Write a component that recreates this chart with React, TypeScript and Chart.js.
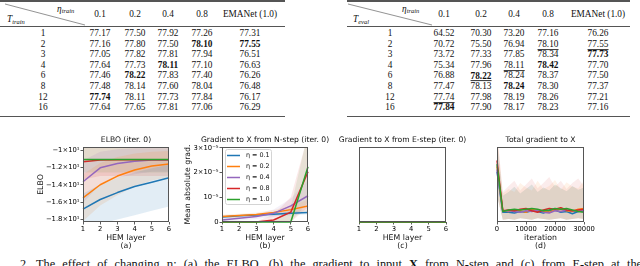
import React, { useEffect, useRef } from 'react';
import { Chart, registerables } from 'chart.js';
Chart.register(...registerables);

// ---------------- table data ----------------
const T_ROWS = ['1', '2', '3', '4', '6', '8', '12', '16'];
const ETA_COLS = ['0.1', '0.2', '0.4', '0.8', 'EMANet (1.0)'];
const TRAIN_ETA_01 = ['77.17', '77.16', '77.05', '77.64', '77.46', '77.48', '77.74', '77.64'];
const TRAIN_ETA_02 = ['77.50', '77.80', '77.82', '77.73', '78.22', '78.14', '78.11', '77.65'];
const TRAIN_ETA_04 = ['77.92', '77.50', '77.81', '78.11', '77.83', '77.60', '77.73', '77.81'];
const TRAIN_ETA_08 = ['77.26', '78.10', '77.94', '77.10', '77.40', '78.04', '77.84', '77.06'];
const TRAIN_EMANET = ['77.31', '77.55', '76.51', '76.63', '76.26', '76.48', '76.17', '76.29'];
const TRAIN_BOLD = ['1-3', '1-4', '3-2', '4-1', '6-0'];
const TRAIN_UNDERLINE: string[] = [];
const EVAL_ETA_01 = ['64.52', '70.72', '73.72', '75.34', '76.88', '77.47', '77.74', '77.84'];
const EVAL_ETA_02 = ['70.30', '75.50', '77.33', '77.96', '78.22', '78.13', '77.98', '77.90'];
const EVAL_ETA_04 = ['73.20', '76.94', '77.85', '78.11', '78.24', '78.24', '78.19', '78.17'];
const EVAL_ETA_08 = ['77.16', '78.10', '78.34', '78.42', '78.37', '78.30', '78.26', '78.23'];
const EVAL_EMANET = ['76.26', '77.55', '77.73', '77.70', '77.50', '77.37', '77.21', '77.16'];
const EVAL_BOLD = ['2-4', '3-3', '4-1', '5-2', '7-0'];
const EVAL_UNDERLINE = ['1-3', '1-4', '3-2', '4-1', '6-0'];

// ---------------- plot data ----------------
const ETA_LABELS = ['η = 0.1', 'η = 0.2', 'η = 0.4', 'η = 0.8', 'η = 1.0'];
const COLORS = ['#1f77b4', '#ff7f0e', '#9467bd', '#d62728', '#2ca02c'];
const HEM_LAYERS = [1, 2, 3, 4, 5, 6];

// (a) ELBO
const ELBO_01 = [-16.8, -15.7, -14.9, -14.2, -13.7, -13.2];
const ELBO_02 = [-15.5, -14.0, -13.0, -12.3, -11.85, -11.6];
const ELBO_04 = [-13.65, -12.05, -11.55, -11.3, -11.15, -11.15];
const ELBO_08 = [-11.35, -11.15, -11.12, -11.12, -11.12, -11.12];
const ELBO_10 = [-11.1, -11.1, -11.1, -11.1, -11.1, -11.1];
const ELBO_BAND_01_HI = [-15.0, -14.0, -13.2, -12.6, -12.1, -11.7];
const ELBO_BAND_01_LO = [-19.0, -18.5, -18.0, -17.5, -17.0, -16.5];
const ELBO_BAND_02_HI = [-12.8, -11.5, -10.8, -10.4, -10.2, -10.1];
const ELBO_BAND_02_LO = [-18.2, -16.4, -15.2, -14.2, -13.5, -13.1];
const ELBO_BAND_04_HI = [-11.2, -10.2, -9.9, -9.8, -9.8, -9.8];
const ELBO_BAND_04_LO = [-16.1, -13.9, -13.2, -12.8, -12.5, -12.5];
const ELBO_BAND_08_HI = [-9.3, -9.3, -9.3, -9.3, -9.3, -9.3];
const ELBO_BAND_08_LO = [-13.4, -13.0, -13.0, -13.0, -13.0, -13.0];
const ELBO_BAND_10_HI = [-9.4, -9.4, -9.4, -9.4, -9.4, -9.4];
const ELBO_BAND_10_LO = [-12.6, -12.6, -12.6, -12.6, -12.6, -12.6];
const ELBO_TICKS = [-18, -16, -14, -12, -10];
const ELBO_TICK_LABELS = ['−1.8×10¹', '−1.6×10¹', '−1.4×10¹', '−1.2×10¹', '−1×10¹'];

// (b) gradient from N-step (units of 1e-5)
const NGRAD_01 = [0.2, 0.25, 0.28, 0.31, 0.35, 0.38];
const NGRAD_02 = [0.22, 0.26, 0.3, 0.38, 0.5, 0.65];
const NGRAD_04 = [0.08, 0.15, 0.22, 0.35, 0.65, 1.06];
const NGRAD_08 = [0.0, 0.0, 0.0, 0.08, 0.4, 2.03];
const NGRAD_10 = [0.0, 0.0, 0.0, 0.0, 0.0, 2.23];
const NGRAD_BAND_01_HI = [0.27, 0.3, 0.34, 0.38, 0.42, 0.48];
const NGRAD_BAND_01_LO = [0.13, 0.18, 0.22, 0.24, 0.27, 0.3];
const NGRAD_BAND_02_HI = [0.3, 0.33, 0.38, 0.48, 0.65, 0.9];
const NGRAD_BAND_02_LO = [0.15, 0.18, 0.2, 0.28, 0.36, 0.42];
const NGRAD_BAND_04_HI = [0.15, 0.25, 0.32, 0.5, 0.95, 1.7];
const NGRAD_BAND_04_LO = [0.02, 0.06, 0.12, 0.2, 0.35, 0.5];
const NGRAD_BAND_08_HI = [0.0, 0.0, 0.02, 0.3, 1.0, 3.5];
const NGRAD_BAND_08_LO = [0.0, 0.0, 0.0, 0.0, 0.0, 0.6];
const NGRAD_BAND_10_HI = [0.0, 0.0, 0.0, 0.02, 0.6, 3.6];
const NGRAD_BAND_10_LO = [0.0, 0.0, 0.0, 0.0, 0.0, 0.8];
const NGRAD_TICKS = [0, 1, 2, 3];
const NGRAD_TICK_LABELS = ['0', '10⁻⁵', '2×10⁻⁵', '3×10⁻⁵'];

// (c) gradient from E-step
const EGRAD_01 = [0, 0, 0, 0, 0, 0];
const EGRAD_02 = [0, 0, 0, 0, 0, 0];
const EGRAD_04 = [0, 0, 0, 0, 0, 0];
const EGRAD_08 = [0, 0, 0, 0, 0, 0];
const EGRAD_10 = [0, 0, 0, 0, 0, 0];

// (d) total gradient (relative units)
const ITERATIONS = [0, 2000, 4000, 6000, 8000, 10000, 12000, 14000, 16000, 18000, 20000, 22000, 24000, 26000, 28000, 30000];
const TOTAL_01 = [0.67, 0.13, 0.13, 0.12, 0.14, 0.13, 0.15, 0.14, 0.12, 0.15, 0.16, 0.13, 0.14, 0.11, 0.14, 0.15];
const TOTAL_02 = [0.74, 0.15, 0.14, 0.16, 0.15, 0.13, 0.17, 0.15, 0.14, 0.13, 0.16, 0.17, 0.15, 0.14, 0.17, 0.18];
const TOTAL_04 = [0.70, 0.14, 0.15, 0.14, 0.13, 0.15, 0.14, 0.16, 0.13, 0.12, 0.15, 0.14, 0.16, 0.15, 0.14, 0.16];
const TOTAL_08 = [0.82, 0.15, 0.16, 0.15, 0.17, 0.18, 0.15, 0.13, 0.16, 0.18, 0.17, 0.19, 0.16, 0.15, 0.16, 0.17];
const TOTAL_10 = [0.77, 0.14, 0.16, 0.17, 0.16, 0.17, 0.18, 0.17, 0.15, 0.16, 0.18, 0.17, 0.18, 0.16, 0.14, 0.13];
const TOTAL_BAND_RED_HI = [1.2, 0.40, 0.48, 0.55, 0.42, 0.50, 0.58, 0.45, 0.52, 0.60, 0.47, 0.55, 0.44, 0.52, 0.58, 0.48];
const TOTAL_BAND_ORANGE_HI = [1.2, 0.38, 0.44, 0.40, 0.52, 0.46, 0.42, 0.55, 0.44, 0.48, 0.56, 0.43, 0.53, 0.47, 0.45, 0.55];
const TOTAL_BAND_BLUE_HI = [1.1, 0.35, 0.40, 0.47, 0.38, 0.44, 0.50, 0.40, 0.46, 0.42, 0.50, 0.45, 0.41, 0.48, 0.43, 0.46];
const TOTAL_BAND_LO = [0.35, 0.03, 0.04, 0.03, 0.05, 0.04, 0.03, 0.05, 0.04, 0.03, 0.04, 0.05, 0.03, 0.04, 0.05, 0.04];
const ITER_TICKS = [0, 10000, 20000, 30000];

// ---------------- helpers ----------------
const SANS = 'DejaVu Sans';
const SERIF = '"Liberation Serif", "Times New Roman", serif';
const TITLE_SIZE = 7.6;
const LABEL_SIZE = 7.8;
const TICK_SIZE = 6.8;

function xy(xs: number[], ys: number[]) {
  return xs.map((x, i) => ({ x, y: ys[i] }));
}
function rgba(hex: string, a: number) {
  const n = parseInt(hex.slice(1), 16);
  return `rgba(${(n >> 16) & 255},${(n >> 8) & 255},${n & 255},${a})`;
}
function lineDs(label: string, color: string, xs: number[], ys: number[], order: number, width = 1.5) {
  return {
    label, data: xy(xs, ys), borderColor: color, backgroundColor: color, borderWidth: width,
    pointRadius: 0, fill: false, tension: 0, order, clip: 3,
  };
}
function bandDs(color: string, xs: number[], hi: number[], lo: number[], alpha = 0.15) {
  return [
    { label: '', data: xy(xs, hi), borderWidth: 0, pointRadius: 0, fill: '+1', backgroundColor: rgba(color, alpha), borderColor: 'rgba(0,0,0,0)', order: 20, tension: 0 },
    { label: '', data: xy(xs, lo), borderWidth: 0, pointRadius: 0, fill: false, borderColor: 'rgba(0,0,0,0)', order: 20, tension: 0 },
  ];
}
function tickFont() {
  return { family: SANS, size: TICK_SIZE };
}
function xScale(min: number, max: number, ticks: number[], height: number) {
  return {
    type: 'linear', min, max,
    afterBuildTicks: (s: any) => { s.ticks = ticks.map((v) => ({ value: v })); },
    afterFit: (s: any) => { s.height = height; },
    ticks: { font: tickFont(), color: '#000', padding: 0.5, maxRotation: 0, autoSkip: false, callback: (v: any) => String(v) },
    grid: { display: true, drawOnChartArea: false, drawTicks: true, tickLength: 2.5, color: '#333', lineWidth: 0.8 },
    border: { display: false },
  };
}
function yScale(min: number, max: number, width: number, ticks?: number[], labels?: string[]) {
  if (!ticks) {
    return {
      type: 'linear', min, max,
      afterFit: (s: any) => { s.width = width; },
      ticks: { display: false },
      grid: { display: false },
      border: { display: false },
    };
  }
  return {
    type: 'linear', min, max,
    afterBuildTicks: (s: any) => { s.ticks = ticks.map((v) => ({ value: v })); },
    afterFit: (s: any) => { s.width = width; },
    ticks: {
      font: tickFont(), color: '#000', padding: 1, autoSkip: false,
      callback: (v: any) => { const i = ticks.indexOf(v); return i >= 0 && labels ? labels[i] : ''; },
    },
    grid: { display: true, drawOnChartArea: false, drawTicks: true, tickLength: 2.5, color: '#333', lineWidth: 0.8 },
    border: { display: false },
  };
}

type DecorOpts = { title: string; ylabel?: string; ylabelX?: number; xlabels: string[]; xlabelY: number[]; legend?: { x: number; y: number; w: number; h: number; step: number } };

function decorPlugin(o: DecorOpts) {
  return {
    id: 'decor',
    afterDatasetsDraw(chart: any) {
      const { ctx, chartArea: a } = chart;
      ctx.save();
      ctx.strokeStyle = '#555';
      ctx.lineWidth = 1;
      ctx.strokeRect(Math.round(a.left) + 0.5, Math.round(a.top) + 0.5, Math.round(a.right - a.left) - 1, Math.round(a.bottom - a.top) - 1);
      ctx.restore();
    },
    afterDraw(chart: any) {
      const { ctx, chartArea: a } = chart;
      const cx = (a.left + a.right) / 2;
      ctx.save();
      ctx.fillStyle = '#111';
      ctx.textAlign = 'center';
      ctx.textBaseline = 'middle';
      ctx.font = `${TITLE_SIZE}px "${SANS}"`;
      ctx.fillText(o.title, cx, a.top - 7);
      ctx.font = `${LABEL_SIZE}px "${SANS}"`;
      o.xlabels.forEach((t, i) => ctx.fillText(t, cx, o.xlabelY[i]));
      if (o.ylabel && o.ylabelX !== undefined) {
        ctx.save();
        ctx.translate(o.ylabelX, (a.top + a.bottom) / 2);
        ctx.rotate(-Math.PI / 2);
        ctx.fillText(o.ylabel, 0, 0);
        ctx.restore();
      }
      if (o.legend) {
        const L = o.legend;
        ctx.fillStyle = 'rgba(255,255,255,0.85)';
        ctx.strokeStyle = '#d4d4d4';
        ctx.lineWidth = 1;
        ctx.beginPath();
        (ctx as any).roundRect(L.x + 0.5, L.y + 0.5, L.w, L.h, 2);
        ctx.fill();
        ctx.stroke();
        ctx.font = `6.4px "${SANS}"`;
        ctx.textAlign = 'left';
        const ds = chart.data.datasets.filter((d: any) => d.label);
        ds.forEach((d: any, i: number) => {
          const y = L.y + 6.5 + i * L.step;
          ctx.strokeStyle = d.borderColor;
          ctx.lineWidth = 1.5;
          ctx.beginPath();
          ctx.moveTo(L.x + 2, y);
          ctx.lineTo(L.x + 15, y);
          ctx.stroke();
          ctx.fillStyle = '#111';
          ctx.fillText(d.label, L.x + 21, y);
        });
      }
      ctx.restore();
    },
  };
}

function PlotCanvas(props: { left: number; top: number; width: number; height: number; build: () => any }) {
  const ref = useRef<HTMLCanvasElement | null>(null);
  useEffect(() => {
    if (!ref.current) return;
    const c = new Chart(ref.current, props.build());
    return () => c.destroy();
  }, []);
  return (
    <canvas
      ref={ref}
      width={props.width}
      height={props.height}
      style={{ position: 'absolute', left: props.left, top: props.top, width: props.width, height: props.height }}
    />
  );
}

function baseOptions(padding: any, scales: any) {
  return {
    responsive: false,
    animation: false,
    devicePixelRatio: 1,
    layout: { padding },
    plugins: { legend: { display: false }, tooltip: { enabled: false }, title: { display: false } },
    scales,
    elements: { line: { borderJoinStyle: 'round' } },
  };
}

function buildA() {
  const xs = HEM_LAYERS;
  const series = [ELBO_01, ELBO_02, ELBO_04, ELBO_08, ELBO_10];
  const his = [ELBO_BAND_01_HI, ELBO_BAND_02_HI, ELBO_BAND_04_HI, ELBO_BAND_08_HI, ELBO_BAND_10_HI];
  const los = [ELBO_BAND_01_LO, ELBO_BAND_02_LO, ELBO_BAND_04_LO, ELBO_BAND_08_LO, ELBO_BAND_10_LO];
  const datasets: any[] = series.map((s, i) => lineDs(ETA_LABELS[i], COLORS[i], xs, s, 5 - i));
  series.forEach((_, i) => datasets.push(...bandDs(COLORS[i], xs, his[i], los[i], 0.13)));
  return {
    type: 'line',
    data: { datasets },
    options: baseOptions({ left: 0, right: 6, top: 17, bottom: 0 }, {
      x: xScale(1, 6, HEM_LAYERS, 28),
      y: yScale(-18.29, -9.65, 83, ELBO_TICKS, ELBO_TICK_LABELS),
    }),
    plugins: [decorPlugin({ title: 'ELBO (iter. 0)', ylabel: 'ELBO', ylabelX: 41, xlabels: ['HEM layer', '(a)'], xlabelY: [108, 116] })],
  };
}

function buildB() {
  const xs = HEM_LAYERS;
  const series = [NGRAD_01, NGRAD_02, NGRAD_04, NGRAD_08, NGRAD_10];
  const his = [NGRAD_BAND_01_HI, NGRAD_BAND_02_HI, NGRAD_BAND_04_HI, NGRAD_BAND_08_HI, NGRAD_BAND_10_HI];
  const los = [NGRAD_BAND_01_LO, NGRAD_BAND_02_LO, NGRAD_BAND_04_LO, NGRAD_BAND_08_LO, NGRAD_BAND_10_LO];
  const datasets: any[] = series.map((s, i) => lineDs(ETA_LABELS[i], COLORS[i], xs, s, 5 - i));
  series.forEach((_, i) => datasets.push(...bandDs(COLORS[i], xs, his[i], los[i], 0.1)));
  return {
    type: 'line',
    data: { datasets },
    options: baseOptions({ left: 0, right: 32, top: 17, bottom: 0 }, {
      x: xScale(1, 6, HEM_LAYERS, 28),
      y: yScale(0, 3.03, 47, NGRAD_TICKS, NGRAD_TICK_LABELS),
    }),
    plugins: [decorPlugin({
      title: 'Gradient to X from N-step (iter. 0)', ylabel: 'Mean absolute grad.', ylabelX: 13,
      xlabels: ['HEM layer', '(b)'], xlabelY: [108, 116],
      legend: { x: 50, y: 19, w: 46, h: 55, step: 11 },
    })],
  };
}

function buildC() {
  const xs = HEM_LAYERS;
  const series = [EGRAD_01, EGRAD_02, EGRAD_04, EGRAD_08, EGRAD_10];
  const datasets: any[] = series.map((s, i) => lineDs(ETA_LABELS[i], COLORS[i], xs, s, 5 - i));
  return {
    type: 'line',
    data: { datasets },
    options: baseOptions({ left: 0, right: 34, top: 17, bottom: 0 }, {
      x: xScale(1, 6, HEM_LAYERS, 28),
      y: yScale(0, 1, 29),
    }),
    plugins: [decorPlugin({ title: 'Gradient to X from E-step (iter. 0)', xlabels: ['HEM layer', '(c)'], xlabelY: [108, 116] })],
  };
}

function buildD() {
  const xs = ITERATIONS;
  const series = [TOTAL_01, TOTAL_02, TOTAL_04, TOTAL_08, TOTAL_10];
  const datasets: any[] = series.map((s, i) => lineDs(ETA_LABELS[i], COLORS[i], xs, s, 5 - i));
  datasets.push(...bandDs(COLORS[3], xs, TOTAL_BAND_RED_HI, TOTAL_BAND_LO, 0.09));
  datasets.push(...bandDs(COLORS[1], xs, TOTAL_BAND_ORANGE_HI, TOTAL_BAND_LO, 0.09));
  datasets.push(...bandDs(COLORS[0], xs, TOTAL_BAND_BLUE_HI, TOTAL_BAND_LO, 0.08));
  datasets.push(...bandDs(COLORS[4], xs, TOTAL_BAND_BLUE_HI, TOTAL_BAND_LO, 0.07));
  return {
    type: 'line',
    data: { datasets },
    options: baseOptions({ left: 0, right: 56, top: 17, bottom: 0 }, {
      x: xScale(0, 30000, ITER_TICKS, 28),
      y: yScale(0, 1, 27),
    }),
    plugins: [decorPlugin({ title: 'Total gradient to X', xlabels: ['iteration', '(d)'], xlabelY: [108, 116] })],
  };
}

// ---------------- tables ----------------
type TableProps = {
  x0: number; x1: number; rowX: number; colX: number[]; cols: string[][];
  bold: string[]; under: string[]; cornerSub: string; diag: [number, number, number, number];
  etaX: number; tX: number;
};

function Cell(props: { x: number; y: number; children: any; style?: any }) {
  return (
    <span style={{
      position: 'absolute', left: props.x, top: props.y, transform: 'translate(-50%, -50%)',
      whiteSpace: 'nowrap', lineHeight: 1, ...(props.style || {}),
    }}>{props.children}</span>
  );
}

function ResultTable(p: TableProps) {
  const rowY = (i: number) => 34 + i * 10.6;
  const rule = (y: number, h: number) => (
    <div style={{ position: 'absolute', left: p.x0, top: y, width: p.x1 - p.x0, height: h, background: '#555' }} />
  );
  return (
    <div style={{ position: 'absolute', left: 0, top: 0, width: 640, height: 120, fontFamily: SERIF, fontSize: 9.3, color: '#111' }}>
      {rule(0.3, 1.6)}
      {rule(25.5, 0.9)}
      {rule(115.6, 1.6)}
      <svg style={{ position: 'absolute', left: 0, top: 0 }} width={640} height={30}>
        <line x1={p.diag[0]} y1={p.diag[1]} x2={p.diag[2]} y2={p.diag[3]} stroke="#777" strokeWidth={0.8} />
      </svg>
      <span style={{ position: 'absolute', left: p.etaX, top: 5, whiteSpace: 'nowrap', lineHeight: 1, fontStyle: 'italic' }}>
        η<sub style={{ fontSize: 6.5, verticalAlign: '-1px' }}>train</sub>
      </span>
      <span style={{ position: 'absolute', left: p.tX, top: 15, whiteSpace: 'nowrap', lineHeight: 1, fontStyle: 'italic' }}>
        T<sub style={{ fontSize: 6.5, verticalAlign: '-2px' }}>{p.cornerSub}</sub>
      </span>
      {ETA_COLS.map((h, j) => <Cell key={'h' + j} x={p.colX[j]} y={15}>{h}</Cell>)}
      {T_ROWS.map((t, i) => <Cell key={'r' + i} x={p.rowX} y={rowY(i)}>{t}</Cell>)}
      {p.cols.map((col, j) => col.map((v, i) => {
        const key = `${i}-${j}`;
        const style: any = {};
        if (p.bold.includes(key)) style.fontWeight = 'bold';
        const under = p.under.includes(key);
        return (
          <Cell key={'c' + key} x={p.colX[j]} y={rowY(i) + (under ? 0.1 : 0)} style={style}>
            {under
              ? <span style={{ display: 'inline-block', borderBottom: '0.9px solid #333', paddingBottom: 0, lineHeight: 0.95 }}>{v}</span>
              : v}
          </Cell>
        );
      }))}
    </div>
  );
}

export default function App() {
  return (
    <div style={{ position: 'absolute', left: 0, top: 0, width: 640, height: 266, overflow: 'hidden', background: '#fff' }}>
      <ResultTable
        x0={0} x1={285} rowX={43} colX={[100, 135, 168, 202, 250]}
        cols={[TRAIN_ETA_01, TRAIN_ETA_02, TRAIN_ETA_04, TRAIN_ETA_08, TRAIN_EMANET]}
        bold={TRAIN_BOLD} under={TRAIN_UNDERLINE} cornerSub="train" diag={[5, 4, 85, 25]} etaX={57} tX={7}
      />
      <ResultTable
        x0={347} x1={630} rowX={390} colX={[444, 481, 514, 548, 598]}
        cols={[EVAL_ETA_01, EVAL_ETA_02, EVAL_ETA_04, EVAL_ETA_08, EVAL_EMANET]}
        bold={EVAL_BOLD} under={EVAL_UNDERLINE} cornerSub="eval" diag={[348, 4, 432, 25]} etaX={402} tX={353}
      />
      <PlotCanvas left={0} top={130} width={175} height={120} build={buildA} />
      <PlotCanvas left={175} top={130} width={165} height={120} build={buildB} />
      <PlotCanvas left={330} top={130} width={150} height={120} build={buildC} />
      <PlotCanvas left={470} top={130} width={170} height={120} build={buildD} />
      <div style={{
        position: 'absolute', left: 20, top: 256.5, width: 622, fontFamily: SERIF, fontSize: 12.3,
        lineHeight: 1.2, textAlign: 'justify', textAlignLast: 'justify', color: '#111',
      }}>
        2. The effect of changing η: (a) the ELBO, (b) the gradient to input <b>X</b> from N-step and (c) from E-step at the
      </div>
    </div>
  );
}
